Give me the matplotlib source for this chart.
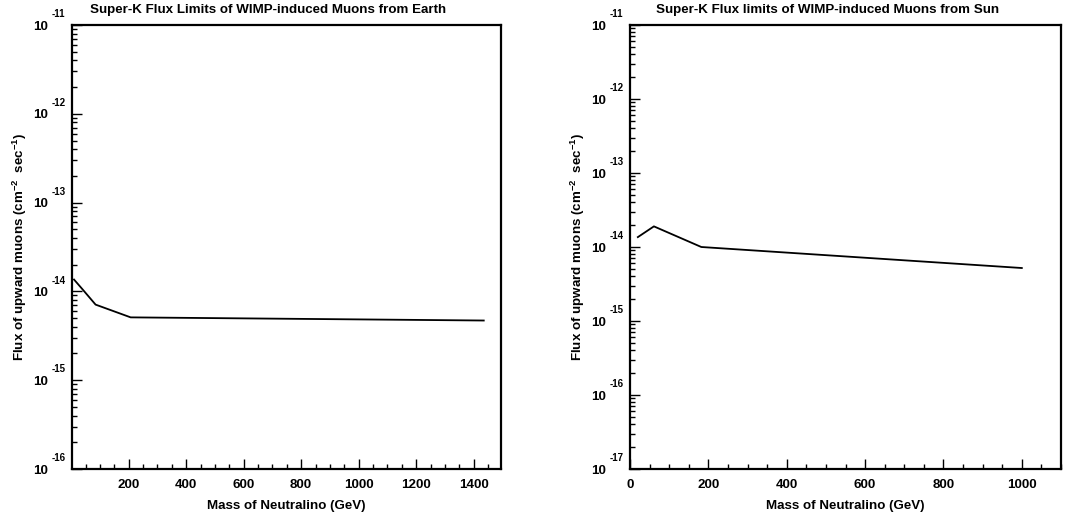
import matplotlib
matplotlib.use("Agg")
import matplotlib.pyplot as plt
from matplotlib.ticker import MultipleLocator, LogLocator, NullFormatter, FixedLocator

plt.rcParams['font.family'] = ['Liberation Sans', 'DejaVu Sans']
plt.rcParams['font.weight'] = 'bold'
plt.rcParams['mathtext.fontset'] = 'custom'
plt.rcParams['mathtext.rm'] = 'Liberation Sans:bold'
plt.rcParams['mathtext.bf'] = 'Liberation Sans:bold'
plt.rcParams['mathtext.it'] = 'Liberation Sans:bold'
plt.rcParams['mathtext.default'] = 'rm'

# ---- data ----
earth_mass = [10, 38, 85, 207, 1435]
earth_flux = [1.36e-14, 1.07e-14, 7.1e-15, 5.1e-15, 4.7e-15]
sun_mass = [20, 61, 182, 1000]
sun_flux = [1.36e-14, 1.9e-14, 1.0e-14, 5.2e-15]

earth_title = "Super-K Flux Limits of WIMP-induced Muons from Earth"
sun_title = "Super-K Flux limits of WIMP-induced Muons from Sun"
xlabel = "Mass of Neutralino (GeV)"
ylabel = r"Flux of upward muons (cm$^{-2}$  sec$^{-1}$)"
earth_exps = [-11, -12, -13, -14, -15, -16]
sun_exps = [-11, -12, -13, -14, -15, -16, -17]
earth_xticks = [200, 400, 600, 800, 1000, 1200, 1400]
sun_xticks = [0, 200, 400, 600, 800, 1000]

W, H = 1079, 516
fig = plt.figure(figsize=(W / 100, H / 100), dpi=100)

FS = 9.6
EXP_FS = 7.0


def setup(ax, exps, xticks, xlim, title, title_x):
    ax.set_yscale('log')
    ax.set_xlim(*xlim)
    ax.set_ylim(10.0 ** exps[-1], 10.0 ** exps[0])
    for s in ax.spines.values():
        s.set_linewidth(1.6)
    ax.xaxis.set_major_locator(FixedLocator(xticks))
    ax.xaxis.set_minor_locator(MultipleLocator(50))
    ax.set_xticklabels([str(v) for v in xticks], fontsize=FS, fontweight='bold')
    ax.yaxis.set_major_locator(FixedLocator([10.0 ** e for e in exps]))
    ax.yaxis.set_minor_locator(LogLocator(base=10, subs=range(2, 10), numticks=50))
    ax.yaxis.set_minor_formatter(NullFormatter())
    ax.set_yticklabels(['10'] * len(exps), fontsize=FS, fontweight='bold')
    ax.tick_params(which='major', direction='in', length=7.2, width=1.0,
                   top=False, right=False)
    ax.tick_params(which='minor', direction='in', length=3.6, width=1.0,
                   top=False, right=False)
    ax.tick_params(axis='x', which='major', pad=7)
    ax.tick_params(axis='y', which='major', pad=17)
    for e in exps:
        ax.annotate(str(e), xy=(0, 10.0 ** e), xycoords=('axes fraction', 'data'),
                    xytext=(-14.4, 7.8), textcoords='offset points',
                    ha='left', va='center', fontsize=EXP_FS, fontweight='bold',
                    annotation_clip=False)
    ax.set_xlabel(xlabel, fontsize=FS, fontweight='bold', labelpad=7)
    ax.set_ylabel(ylabel, fontsize=FS, fontweight='bold', labelpad=3)
    fig.text(title_x, 1 - 10 / H, title, ha='center', va='center',
             fontsize=FS, fontweight='bold')


ax1 = fig.add_axes([72 / W, 1 - 469 / H, (501 - 72) / W, (469 - 25) / H])
ax1.plot(earth_mass, earth_flux, color='black', lw=1.3)
setup(ax1, earth_exps, earth_xticks, (3, 1495), earth_title, 268 / W)

ax2 = fig.add_axes([630 / W, 1 - 469 / H, (1061 - 630) / W, (469 - 25) / H])
ax2.plot(sun_mass, sun_flux, color='black', lw=1.3)
setup(ax2, sun_exps, sun_xticks, (0, 1100), sun_title, 827.5 / W)

fig.savefig('out.png', dpi=100)
